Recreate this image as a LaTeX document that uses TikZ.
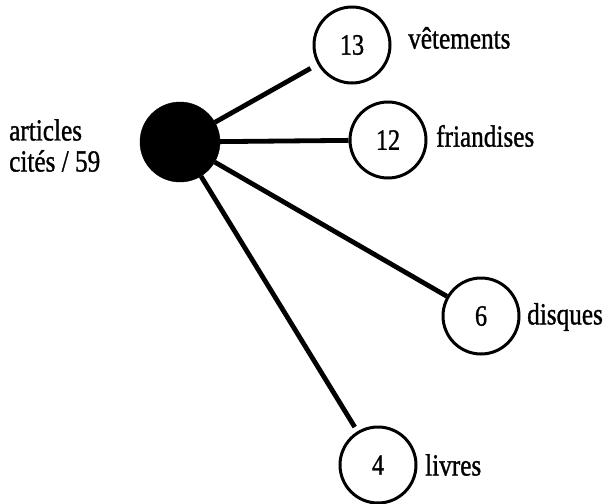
\documentclass[tikz,border=0pt]{standalone}
\usepackage{fontspec}
\setmainfont{Liberation Serif}
\newfontfamily\heavyserif[FakeBold=1.2]{Liberation Serif}
\begin{document}
\begin{tikzpicture}[x=1pt,y=-1pt,
  hub/.style={circle,fill=black,draw=black,minimum size=80pt,inner sep=0pt},
  leaf/.style={circle,draw=black,line width=3pt,minimum size=76pt,inner sep=0pt,font=\heavyserif\fontsize{25}{28}\selectfont},
  lbl/.style={anchor=west,inner sep=0pt,font=\heavyserif\fontsize{26}{30}\selectfont},
  link/.style={line width=4.8pt}]
\useasboundingbox (0,0) rectangle (604,503);
\newcommand{\tall}[1]{\scalebox{0.97}[1.18]{#1}}
\node[hub] (hub) at (180,142) {};
\node[leaf] (c13) at (352,45) {\tall{13}};
\node[leaf] (c12) at (388,140) {\tall{12}};
\node[leaf] (c6) at (481,316) {\tall{6}};
\node[leaf] (c4) at (378,465) {\tall{4}};
\node[lbl] (l13) at (408,38) {\tall{vêtements}};
\node[lbl] (l12) at (436,136) {\tall{friandises}};
\node[lbl] (l6) at (527,317) {\tall{disques}};
\node[lbl] (l4) at (425,465) {\tall{livres}};
\node[lbl] (la) at (9,130) {\tall{articles}};
\node[lbl] (lc) at (9,161) {\tall{cités / 59}};
\draw[link,shorten >=8pt] (hub) -- (c13);
\draw[link] (hub) -- (c12);
\draw[link] (hub) -- (c6);
\draw[link,shorten >=5pt] (hub) -- (c4);
\end{tikzpicture}
\end{document}
